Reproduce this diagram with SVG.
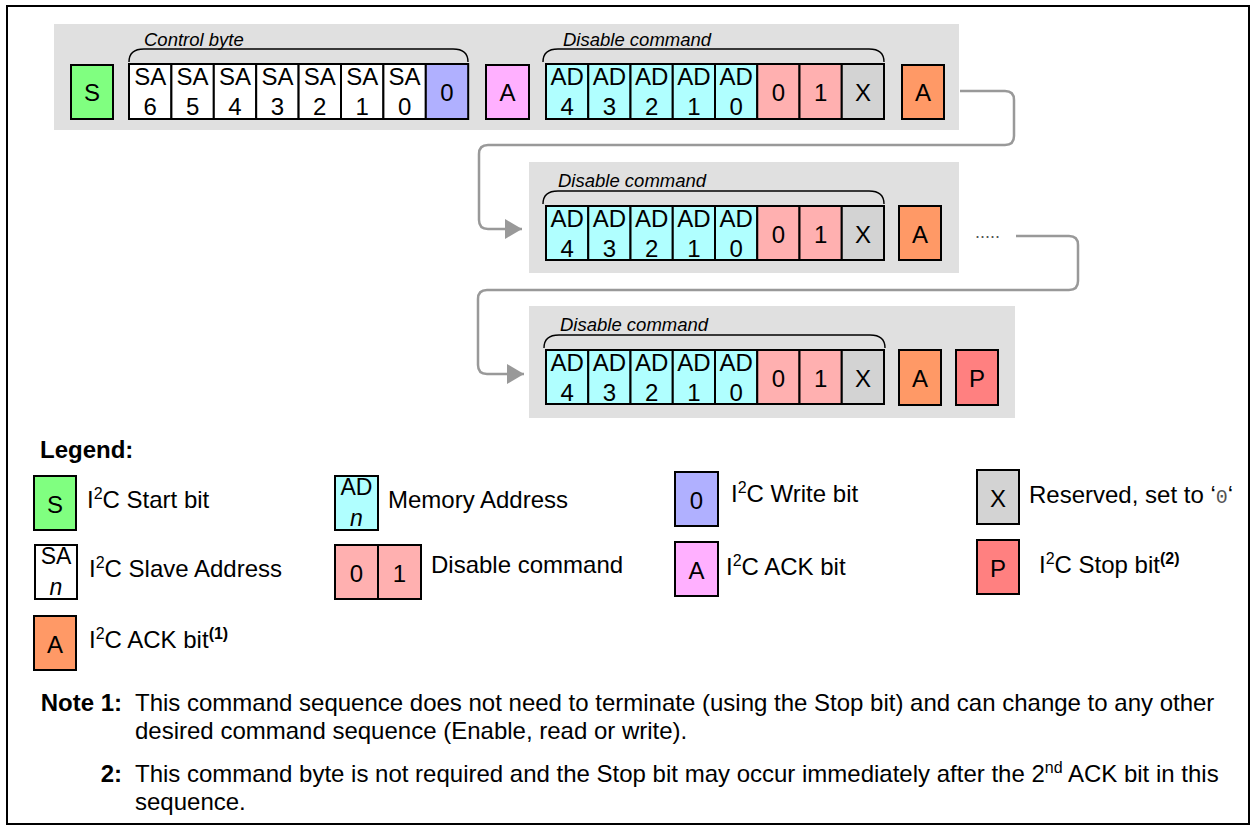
<svg xmlns="http://www.w3.org/2000/svg" width="1256" height="830" viewBox="0 0 1256 830">
<style>
text{font-family:"Liberation Sans",Arial,sans-serif;fill:#000}
.c{stroke:#000;stroke-width:2}
.t{font-size:24px;text-anchor:middle}
.hdr{font-size:18.5px;font-style:italic}
.lg{font-size:24px}
.note{font-size:24px}
.b{font-weight:bold}
.panel{fill:#e0e0e0}
.brace{fill:none;stroke:#000;stroke-width:1.4}
.conn{fill:none;stroke:#999;stroke-width:2.5}
.g{fill:#80ff80}.w{fill:#fff}.wr{fill:#b0b0ff}.pk{fill:#ffb0ff}.cy{fill:#b0ffff}.dc{fill:#ffb0b0}.x{fill:#d3d3d3}.or{fill:#ff9966}.p{fill:#ff8080}
</style>
<defs>
<marker id="arr" markerUnits="userSpaceOnUse" markerWidth="18" markerHeight="20" refX="17" refY="10" orient="auto">
<path d="M0,0 L17,10 L0,20 Z" fill="#999"/>
</marker>
</defs>
<rect x="7" y="6" width="1242" height="818" fill="#fff" stroke="#000" stroke-width="2"/>
<g id="panels">
<rect class="panel" x="54" y="24" width="905" height="106"/>
<rect class="panel" x="529" y="162" width="430" height="111"/>
<rect class="panel" x="529" y="306" width="486" height="112"/>
</g>
<g id="connectors">
<path class="conn" d="M960,91 H1005 Q1014,91 1014,100 V136 Q1014,145 1005,145 H488 Q479,145 479,154 V220 Q479,229 488,229 H522" marker-end="url(#arr)"/>
<path class="conn" d="M1016,236 H1069 Q1078,236 1078,245 V281 Q1078,290 1069,290 H487 Q478,290 478,299 V365 Q478,374 487,374 H524" marker-end="url(#arr)"/>
</g>
<g id="row1">
<g id="r1-start"><rect class="c g" x="71" y="65" width="42" height="54"/><text class="t" x="92" y="101">S</text></g>
<g id="r1-control-byte">
<text class="hdr" x="144" y="46">Control byte</text>
<path class="brace" d="M129,62 Q129,49 144,49 H453 Q468,49 468,62"/>
<rect class="c w" x="129" y="64" width="42.4" height="55"/><text class="t" x="150.2" y="85">SA</text><text class="t" x="150.2" y="115">6</text>
<rect class="c w" x="171.4" y="64" width="42.4" height="55"/><text class="t" x="192.6" y="85">SA</text><text class="t" x="192.6" y="115">5</text>
<rect class="c w" x="213.8" y="64" width="42.4" height="55"/><text class="t" x="235" y="85">SA</text><text class="t" x="235" y="115">4</text>
<rect class="c w" x="256.2" y="64" width="42.4" height="55"/><text class="t" x="277.4" y="85">SA</text><text class="t" x="277.4" y="115">3</text>
<rect class="c w" x="298.6" y="64" width="42.4" height="55"/><text class="t" x="319.8" y="85">SA</text><text class="t" x="319.8" y="115">2</text>
<rect class="c w" x="341" y="64" width="42.4" height="55"/><text class="t" x="362.2" y="85">SA</text><text class="t" x="362.2" y="115">1</text>
<rect class="c w" x="383.4" y="64" width="42.4" height="55"/><text class="t" x="404.6" y="85">SA</text><text class="t" x="404.6" y="115">0</text>
<rect class="c wr" x="425.8" y="64" width="42.4" height="55"/><text class="t" x="447" y="101">0</text>
</g>
<g id="r1-ack"><rect class="c pk" x="486" y="65" width="43" height="54"/><text class="t" x="507.5" y="101">A</text></g>
<g id="r1-disable">
<text class="hdr" x="563" y="46">Disable command</text>
<path class="brace" d="M543,62 Q543,49 558,49 H869 Q884,49 884,62"/>
<rect class="c cy" x="546" y="64" width="42.25" height="55"/><text class="t" x="567.1" y="85">AD</text><text class="t" x="567.1" y="115">4</text>
<rect class="c cy" x="588.25" y="64" width="42.25" height="55"/><text class="t" x="609.4" y="85">AD</text><text class="t" x="609.4" y="115">3</text>
<rect class="c cy" x="630.5" y="64" width="42.25" height="55"/><text class="t" x="651.6" y="85">AD</text><text class="t" x="651.6" y="115">2</text>
<rect class="c cy" x="672.75" y="64" width="42.25" height="55"/><text class="t" x="693.9" y="85">AD</text><text class="t" x="693.9" y="115">1</text>
<rect class="c cy" x="715" y="64" width="42.25" height="55"/><text class="t" x="736.1" y="85">AD</text><text class="t" x="736.1" y="115">0</text>
<rect class="c dc" x="757.25" y="64" width="42.25" height="55"/><text class="t" x="778.4" y="101">0</text>
<rect class="c dc" x="799.5" y="64" width="42.25" height="55"/><text class="t" x="820.6" y="101">1</text>
<rect class="c x" x="841.75" y="64" width="42.25" height="55"/><text class="t" x="862.9" y="101">X</text>
</g>
<g id="r1-ack2"><rect class="c or" x="902" y="65" width="42" height="54"/><text class="t" x="923" y="101">A</text></g>
</g>
<g id="row2">
<g id="r2-disable">
<text class="hdr" x="558" y="187">Disable command</text>
<path class="brace" d="M543,204 Q543,191 558,191 H869 Q884,191 884,204"/>
<rect class="c cy" x="546" y="206" width="42.25" height="54"/><text class="t" x="567.1" y="227">AD</text><text class="t" x="567.1" y="257">4</text>
<rect class="c cy" x="588.25" y="206" width="42.25" height="54"/><text class="t" x="609.4" y="227">AD</text><text class="t" x="609.4" y="257">3</text>
<rect class="c cy" x="630.5" y="206" width="42.25" height="54"/><text class="t" x="651.6" y="227">AD</text><text class="t" x="651.6" y="257">2</text>
<rect class="c cy" x="672.75" y="206" width="42.25" height="54"/><text class="t" x="693.9" y="227">AD</text><text class="t" x="693.9" y="257">1</text>
<rect class="c cy" x="715" y="206" width="42.25" height="54"/><text class="t" x="736.1" y="227">AD</text><text class="t" x="736.1" y="257">0</text>
<rect class="c dc" x="757.25" y="206" width="42.25" height="54"/><text class="t" x="778.4" y="243">0</text>
<rect class="c dc" x="799.5" y="206" width="42.25" height="54"/><text class="t" x="820.6" y="243">1</text>
<rect class="c x" x="841.75" y="206" width="42.25" height="54"/><text class="t" x="862.9" y="243">X</text>
</g>
<g id="r2-ack"><rect class="c or" x="899" y="206" width="42" height="54"/><text class="t" x="920" y="243">A</text></g>
<g id="r2-more"><text x="975" y="238" style="font-size:18px;fill:#555">.....</text></g>
</g>
<g id="row3">
<g id="r3-disable">
<text class="hdr" x="560" y="331">Disable command</text>
<path class="brace" d="M544,348 Q544,335 559,335 H870 Q885,335 885,348"/>
<rect class="c cy" x="546" y="350" width="42.25" height="54"/><text class="t" x="567.1" y="371">AD</text><text class="t" x="567.1" y="401">4</text>
<rect class="c cy" x="588.25" y="350" width="42.25" height="54"/><text class="t" x="609.4" y="371">AD</text><text class="t" x="609.4" y="401">3</text>
<rect class="c cy" x="630.5" y="350" width="42.25" height="54"/><text class="t" x="651.6" y="371">AD</text><text class="t" x="651.6" y="401">2</text>
<rect class="c cy" x="672.75" y="350" width="42.25" height="54"/><text class="t" x="693.9" y="371">AD</text><text class="t" x="693.9" y="401">1</text>
<rect class="c cy" x="715" y="350" width="42.25" height="54"/><text class="t" x="736.1" y="371">AD</text><text class="t" x="736.1" y="401">0</text>
<rect class="c dc" x="757.25" y="350" width="42.25" height="54"/><text class="t" x="778.4" y="387">0</text>
<rect class="c dc" x="799.5" y="350" width="42.25" height="54"/><text class="t" x="820.6" y="387">1</text>
<rect class="c x" x="841.75" y="350" width="42.25" height="54"/><text class="t" x="862.9" y="387">X</text>
</g>
<g id="r3-ack"><rect class="c or" x="899" y="350" width="42" height="55"/><text class="t" x="920" y="387">A</text></g>
<g id="r3-stop"><rect class="c p" x="956" y="350" width="42" height="55"/><text class="t" x="977" y="387">P</text></g>
</g>
<g id="legend">
<text class="lg b" x="40" y="458">Legend:</text>
<g id="lg-start"><rect class="c g" x="34" y="476" width="42" height="54"/><text class="t" x="55" y="513">S</text>
<text class="lg" x="87" y="508">I<tspan dy="-9" font-size="16">2</tspan><tspan dy="9">C Start bit</tspan></text></g>
<g id="lg-sa"><rect class="c w" x="35" y="545" width="42" height="54"/><text class="t" x="56" y="564" style="font-size:23px">SA</text><text class="t" x="56" y="595" style="font-size:23px;font-style:italic">n</text>
<text class="lg" x="89" y="577">I<tspan dy="-9" font-size="16">2</tspan><tspan dy="9">C Slave Address</tspan></text></g>
<g id="lg-ack1"><rect class="c or" x="34" y="616" width="42" height="54"/><text class="t" x="55" y="653">A</text>
<text class="lg" x="89" y="648">I<tspan dy="-9" font-size="16">2</tspan><tspan dy="9">C ACK bit</tspan><tspan dy="-9" font-size="16" font-weight="bold">(1)</tspan></text></g>
<g id="lg-ad"><rect class="c cy" x="335" y="476" width="43" height="54"/><text class="t" x="356.5" y="495" style="font-size:23px">AD</text><text class="t" x="356.5" y="526" style="font-size:23px;font-style:italic">n</text>
<text class="lg" x="388" y="508">Memory Address</text></g>
<g id="lg-dis"><rect class="c dc" x="335" y="545" width="43" height="54"/><rect class="c dc" x="378" y="545" width="43" height="54"/><text class="t" x="356.5" y="582">0</text><text class="t" x="399.5" y="582">1</text>
<text class="lg" x="431" y="573">Disable command</text></g>
<g id="lg-write"><rect class="c wr" x="675" y="472" width="43" height="54"/><text class="t" x="696.5" y="509">0</text>
<text class="lg" x="731" y="502">I<tspan dy="-9" font-size="16">2</tspan><tspan dy="9">C Write bit</tspan></text></g>
<g id="lg-ack"><rect class="c pk" x="675" y="542" width="43" height="54"/><text class="t" x="696.5" y="579">A</text>
<text class="lg" x="726" y="575">I<tspan dy="-9" font-size="16">2</tspan><tspan dy="9">C ACK bit</tspan></text></g>
<g id="lg-x"><rect class="c x" x="977" y="470" width="42" height="54"/><text class="t" x="998" y="507">X</text>
<text class="lg" x="1029" y="503">Reserved, set to ‘<tspan style="font-family:'Liberation Mono',monospace;fill:#555;font-size:20px">0</tspan>‘</text></g>
<g id="lg-stop"><rect class="c p" x="977" y="540" width="42" height="54"/><text class="t" x="998" y="577">P</text>
<text class="lg" x="1039" y="573">I<tspan dy="-9" font-size="16">2</tspan><tspan dy="9">C Stop bit</tspan><tspan dy="-9" font-size="16" font-weight="bold">(2)</tspan></text></g>
</g>
<g id="notes">
<text class="note b" x="122" y="711" text-anchor="end">Note 1:</text>
<text class="note" x="135" y="711">This command sequence does not need to terminate (using the Stop bit) and can change to any other</text>
<text class="note" x="135" y="739">desired command sequence (Enable, read or write).</text>
<text class="note b" x="122" y="782" text-anchor="end">2:</text>
<text class="note" x="135" y="782">This command byte is not required and the Stop bit may occur immediately after the 2<tspan dy="-9" font-size="16">nd</tspan><tspan dy="9"> ACK bit in this</tspan></text>
<text class="note" x="135" y="810">sequence.</text>
</g>
</svg>
